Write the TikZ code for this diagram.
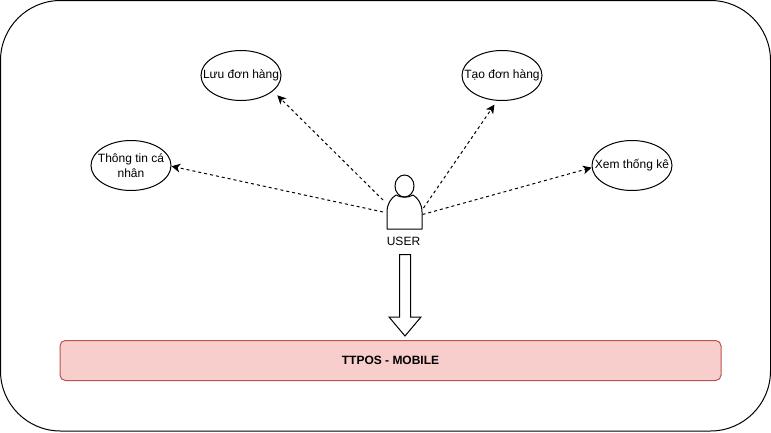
\documentclass[tikz,border=0pt]{standalone}
\usepackage{fontspec}
\setmainfont{Liberation Sans}
\usetikzlibrary{shapes.geometric,arrows.meta}
\definecolor{appfill}{HTML}{F8CECC}
\definecolor{appline}{HTML}{B85450}
\tikzset{
  base/.style={line width=0.75pt,draw=black},
  usecase/.style={base,ellipse,minimum width=60pt,minimum height=37.5pt,inner sep=0pt,
    label={[align=center,inner sep=0pt,font=\fontsize{9}{11.25}\selectfont]center:#1}},
  conn/.style={line width=0.75pt,draw=black,dash pattern=on 2.25pt off 2.25pt,-{Stealth[length=6.5pt,width=6.5pt,inset=1.8pt]}},
  plain/.style={inner sep=0pt,font=\fontsize{9}{11.25}\selectfont}
}
\begin{document}
\begin{tikzpicture}[x=0.75pt,y=-0.75pt]
\useasboundingbox (0,0) rectangle (771,432);
\draw[base,rounded corners=45pt] (0.5,0.5) rectangle (770.5,431);
% use cases
\node[usecase={Lưu đơn hàng}] (luu) at (241,75.5) {};
\node[usecase={Tạo đơn hàng}] (tao) at (502,75.5) {};
\node[usecase={Thông tin cá\\nhân}] (thong) at (131,165.5) {};
\node[usecase={Xem thống kê}] (xem) at (632,165.5) {};
% user
\node[minimum width=26.25pt,minimum height=40.5pt,inner sep=0pt,outer sep=0pt] (user) at (404.5,202) {};
\draw[base] (404.5,186) ellipse [x radius=9.5,y radius=11];
\draw[base,line join=round] (387,229) -- (387,212)
  .. controls (387,204) and (391,198) .. (396,195)
  .. controls (401,198) and (408,198) .. (413,195)
  .. controls (418,198) and (422,204) .. (422,212)
  -- (422,229) -- cycle;
\node[plain] (userlabel) at (403.5,241.5) {USER};
% connectors
\draw[conn] ([shift={(-4,37)}]user.north west) -- (thong.-1);
\draw[conn,shorten >=4.5pt] ([shift={(-4,25)}]user.north west) -- (luu.-26);
\draw[conn,shorten >=3.5pt] ([shift={(1.5,33)}]user.north east) -- (tao.-101);
\draw[conn] ([shift={(0.5,39.5)}]user.north east) -- (xem.183);
% target
\node[line width=0.75pt,draw=appline,fill=appfill,rounded corners=4pt,minimum width=495.75pt,minimum height=30pt,inner sep=0pt,font=\fontsize{9}{11.25}\selectfont\bfseries] (app) at (390.5,360.5) {TTPOS - MOBILE};
% block arrow
\draw[base,line join=miter] (399.5,254.5) -- (410.5,254.5) -- (410.5,317) -- (421,317) -- (405,336) -- (389,317) -- (399.5,317) -- cycle;
\end{tikzpicture}
\end{document}
